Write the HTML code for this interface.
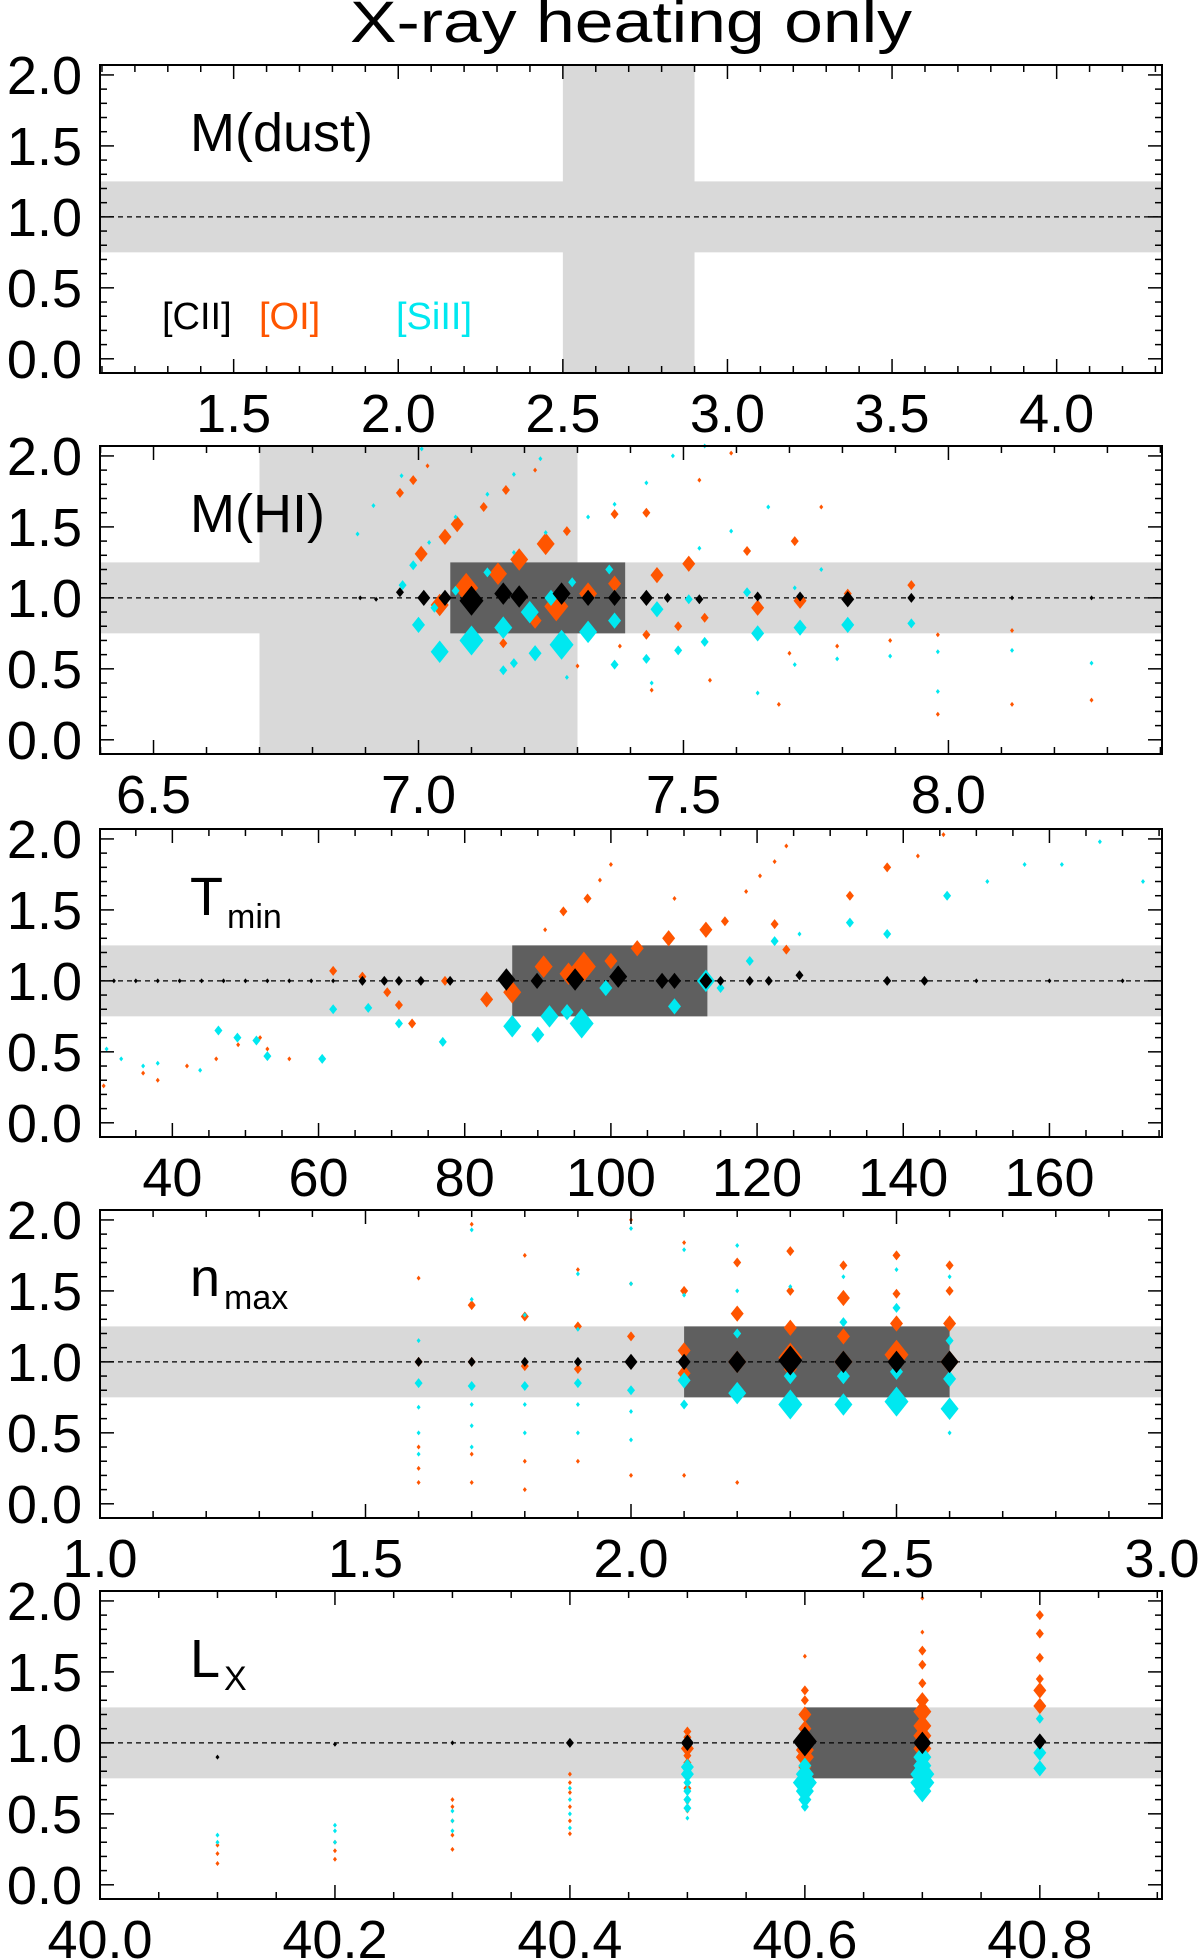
<!DOCTYPE html>
<html><head><meta charset="utf-8"><title>X-ray heating only</title>
<style>
html,body{margin:0;padding:0;background:#fff;}
svg{display:block;font-family:"Liberation Sans",Arial,sans-serif;}
</style></head>
<body>
<svg id="fig" width="1200" height="1959" viewBox="0 0 1200 1959" xmlns="http://www.w3.org/2000/svg">
<text x="631" y="42" font-size="58" text-anchor="middle" textLength="562" lengthAdjust="spacingAndGlyphs">X-ray heating only</text>
</svg>
<script>
// ---------- data ----------
const p1Ticks = [1.5, 2.0, 2.5, 3.0, 3.5, 4.0];
const p2Ticks = [6.5, 7.0, 7.5, 8.0];
const p3Ticks = [40, 60, 80, 100, 120, 140, 160];
const p4Ticks = [1.0, 1.5, 2.0, 2.5, 3.0];
const p5Ticks = [40.0, 40.2, 40.4, 40.6, 40.8];
const yTicks = [0.0, 0.5, 1.0, 1.5, 2.0];
const panelLabels = ["M(dust)", "M(HI)", "T", "n", "L"];

// points: [x, ratio, sizeClass]  (sizeClass 1 tiny .. 5 huge)
const hiCII = [[6.89,1.0,1],[6.92,0.99,1],[6.965,1.04,2],[7.01,1.0,3],[7.05,1.0,3],[7.10,0.98,5],[7.16,1.03,4],[7.19,1.01,4],[7.27,1.03,4],[7.32,1.0,3],[7.37,1.0,3],[7.43,1.0,3],[7.47,1.0,2],[7.53,0.99,2],[7.64,1.01,2],[7.72,1.01,2],[7.81,0.99,3],[7.93,1.0,2],[8.12,1.0,1],[8.27,1.0,1]];
const hiOI = [[7.073,2.09,1],[7.017,1.93,1],[6.99,1.83,2],[6.965,1.74,2],[7.123,1.64,2],[7.073,1.52,3],[7.05,1.43,3],[7.005,1.31,3],[7.22,1.90,1],[7.165,1.76,2],[7.24,1.38,4],[7.28,1.47,2],[7.19,1.27,4],[7.15,1.17,4],[7.09,1.07,5],[7.04,0.95,4],[7.26,0.94,5],[7.32,1.03,4],[7.37,1.10,3],[7.22,0.84,3],[7.16,0.68,2],[7.325,2.09,1],[7.37,1.59,2],[7.43,1.60,2],[7.53,1.83,1],[7.59,2.02,1],[7.45,1.16,3],[7.51,1.24,3],[7.62,1.33,2],[7.71,1.40,2],[7.76,1.64,1],[7.54,0.86,2],[7.64,0.93,3],[7.72,0.98,3],[7.81,1.03,2],[7.93,1.09,2],[7.49,0.80,2],[7.43,0.74,2],[7.89,0.70,1],[7.98,0.74,1],[8.12,0.77,1],[7.38,0.66,1],[7.30,0.52,1],[7.79,0.66,1],[7.70,0.61,1],[7.44,0.35,1],[7.55,0.42,1],[7.68,0.25,1],[7.98,0.18,1],[8.12,0.25,1],[8.27,0.28,1]];
const hiSiII = [[7.006,2.05,1],[6.968,1.86,1],[6.915,1.65,1],[6.885,1.45,1],[7.02,1.39,1],[7.07,1.57,1],[7.13,1.73,1],[7.18,1.87,1],[7.23,1.98,1],[7.24,1.46,1],[7.18,1.32,1],[7.13,1.18,2],[6.99,1.23,2],[6.97,1.09,2],[7.07,1.05,2],[7.25,1.00,3],[7.29,1.11,2],[7.36,1.20,2],[7.03,0.93,2],[7.00,0.81,3],[7.21,0.90,4],[7.16,0.79,4],[7.10,0.70,5],[7.04,0.62,4],[7.27,0.67,5],[7.32,0.76,4],[7.37,0.84,3],[7.22,0.61,3],[7.18,0.54,2],[7.16,0.49,2],[7.28,0.44,1],[7.37,0.53,2],[7.45,0.92,3],[7.51,0.99,2],[7.54,0.69,2],[7.49,0.63,2],[7.43,0.57,2],[7.64,0.75,3],[7.72,0.79,3],[7.81,0.81,3],[7.93,0.82,2],[7.89,0.59,1],[7.98,0.62,1],[8.12,0.63,1],[7.79,0.57,1],[7.71,0.53,1],[7.62,1.04,2],[7.71,1.07,1],[7.76,1.20,1],[7.59,1.47,1],[7.66,1.64,1],[7.53,1.35,1],[7.48,2.0,1],[7.43,1.81,1],[7.37,1.66,1],[7.32,1.57,1],[7.54,2.07,1],[7.44,0.40,1],[7.64,0.33,1],[7.98,0.34,1],[8.27,0.54,1]];

const tCII = [[32,1.0,1],[35,1.0,1],[38,1.0,1],[41,1.0,1],[44,1.0,1],[47,1.0,1],[50,1.0,1],[53,1.0,1],[56,1.0,1],[59,1.0,1],[62,1.0,1],[66,1.0,2],[69,1.0,2],[71,1.0,2],[74,1.0,2],[78,1.0,2],[85.7,1.01,4],[89.9,1.0,3],[95.1,1.01,4],[101,1.03,4],[107,1.0,3],[108.7,1.0,3],[113,1.0,3],[115,1.0,2],[119,1.0,2],[121.6,1.0,2],[125.8,1.04,2],[137.8,1.0,2],[142.9,1.0,2],[150,1.0,1],[160,1.0,1],[170,1.0,1]];
const tOI = [[30.6,0.26,1],[36,0.35,1],[38,0.30,1],[42,0.40,1],[46,0.45,1],[49,0.55,1],[52,0.60,1],[53,0.52,1],[56,0.45,1],[62,1.07,2],[66,1.03,2],[69.4,0.92,2],[71,0.83,2],[72.8,0.70,2],[77.3,1.0,2],[83,0.87,3],[86.5,0.92,4],[90.8,1.10,4],[94.2,1.05,4],[96.3,1.10,5],[100,1.14,3],[103.6,1.23,3],[107.9,1.30,3],[113,1.36,3],[115.6,1.42,2],[91,1.36,1],[93.5,1.49,2],[96.8,1.58,2],[98.5,1.71,1],[100,1.82,1],[118.5,1.63,1],[120.4,1.74,1],[122.4,1.84,1],[124,1.95,1],[132.7,1.60,2],[137.8,1.80,2],[142,1.88,1],[145.5,2.03,1],[122.4,1.40,2],[124,1.22,2],[108.7,1.58,1]];
const tSiII = [[91.6,0.75,4],[96,0.70,5],[86.5,0.68,4],[90,0.62,3],[77,0.57,2],[71,0.70,2],[66.8,0.81,2],[62,0.80,2],[60.5,0.45,2],[108.7,0.82,3],[113,1.00,4],[115,0.95,2],[99.3,0.95,3],[94,0.78,3],[119,1.14,2],[122.4,1.28,2],[125.8,1.33,1],[132.7,1.41,2],[137.8,1.33,2],[146,1.60,2],[151.5,1.70,1],[156.6,1.82,1],[161.7,1.82,1],[166.9,1.98,1],[172.8,1.70,1],[31,0.52,1],[33,0.45,1],[36,0.40,1],[38,0.42,1],[43.8,0.37,1],[46.3,0.65,2],[48.9,0.60,2],[51.5,0.58,2],[53,0.47,2]];

const nCII = [[1.6,1.0,2],[1.7,1.0,2],[1.8,1.0,2],[1.9,1.0,2],[2.0,1.0,3],[2.1,1.0,3],[2.2,1.0,4],[2.3,1.01,5],[2.4,1.0,4],[2.5,1.0,4],[2.6,1.0,4]];
const nOI = [[1.6,1.59,1],[1.6,1.0,2],[1.6,0.4,1],[1.6,0.25,1],[1.6,0.15,1],[1.7,1.97,1],[1.7,1.4,2],[1.7,1.0,2],[1.7,0.35,1],[1.7,0.15,1],[1.8,1.75,1],[1.8,1.32,2],[1.8,0.97,2],[1.8,0.3,1],[1.8,0.1,1],[1.9,1.65,1],[1.9,1.25,2],[1.9,0.95,2],[1.9,0.3,1],[2.0,2.0,1],[2.0,1.55,1],[2.0,1.18,2],[2.0,0.98,2],[2.0,0.2,1],[2.1,1.84,1],[2.1,1.5,2],[2.1,1.08,3],[2.1,0.92,3],[2.1,0.2,1],[2.2,1.7,2],[2.2,1.34,3],[2.2,1.0,4],[2.2,0.15,1],[2.3,1.78,2],[2.3,1.5,2],[2.3,1.24,3],[2.3,1.03,5],[2.3,0.95,3],[2.4,1.68,2],[2.4,1.45,3],[2.4,1.18,3],[2.4,1.0,4],[2.5,1.75,2],[2.5,1.48,2],[2.5,1.27,3],[2.5,1.05,5],[2.6,1.68,2],[2.6,1.5,2],[2.6,1.27,3],[2.6,1.0,4]];
const nSiII = [[1.6,1.15,1],[1.6,0.85,2],[1.6,0.68,1],[1.6,0.5,1],[1.6,0.35,1],[1.7,1.93,1],[1.7,1.44,1],[1.7,0.83,2],[1.7,0.7,1],[1.7,0.55,1],[1.7,0.4,1],[1.8,1.33,1],[1.8,0.83,2],[1.8,0.7,1],[1.8,0.5,1],[1.9,1.62,1],[1.9,1.23,1],[1.9,0.85,2],[1.9,0.7,1],[1.9,0.5,1],[2.0,1.94,1],[2.0,1.55,1],[2.0,0.8,2],[2.0,0.65,1],[2.0,0.45,1],[2.1,1.79,1],[2.1,1.47,1],[2.1,1.0,2],[2.1,0.87,3],[2.1,0.7,2],[2.2,1.82,1],[2.2,1.5,1],[2.2,1.2,2],[2.2,1.0,3],[2.2,0.78,4],[2.3,1.53,1],[2.3,0.9,3],[2.3,0.7,5],[2.4,1.6,1],[2.4,1.28,2],[2.4,0.9,3],[2.4,0.7,4],[2.5,1.65,1],[2.5,1.38,2],[2.5,0.93,3],[2.5,0.72,5],[2.6,1.6,1],[2.6,1.15,2],[2.6,0.88,3],[2.6,0.67,4],[2.6,0.5,1]];

const lCII = [[40.1,0.9,1],[40.2,0.99,1],[40.3,1.0,1],[40.4,1.0,2],[40.5,1.0,3],[40.6,1.01,5],[40.7,1.0,4],[40.8,1.01,3]];
const lOI = [[40.1,0.15,1],[40.1,0.22,1],[40.1,0.28,1],[40.2,0.18,1],[40.2,0.24,1],[40.2,0.3,1],[40.3,0.25,1],[40.3,0.35,1],[40.3,0.45,1],[40.3,0.55,1],[40.3,0.6,1],[40.4,0.36,1],[40.4,0.45,1],[40.4,0.55,1],[40.4,0.65,1],[40.4,0.72,1],[40.4,0.78,1],[40.5,1.08,2],[40.5,1.04,2],[40.5,0.96,3],[40.5,0.91,2],[40.5,0.86,2],[40.5,0.78,2],[40.5,0.68,2],[40.5,0.58,1],[40.5,0.52,1],[40.6,1.61,1],[40.6,1.37,2],[40.6,1.3,2],[40.6,1.2,3],[40.6,1.1,3],[40.6,1.02,4],[40.6,0.95,4],[40.6,0.9,4],[40.6,0.83,3],[40.6,0.72,2],[40.7,2.02,1],[40.7,1.78,1],[40.7,1.65,2],[40.7,1.55,2],[40.7,1.42,2],[40.7,1.3,3],[40.7,1.22,4],[40.7,1.12,4],[40.7,1.05,4],[40.7,0.96,4],[40.8,2.08,1],[40.8,1.9,2],[40.8,1.77,2],[40.8,1.6,2],[40.8,1.45,2],[40.8,1.37,3],[40.8,1.26,3]];
const lSiII = [[40.1,0.3,1],[40.1,0.35,1],[40.2,0.3,1],[40.2,0.38,1],[40.2,0.42,1],[40.3,0.38,1],[40.3,0.45,1],[40.3,0.52,1],[40.4,0.4,1],[40.4,0.5,1],[40.4,0.6,1],[40.4,0.68,1],[40.5,0.83,3],[40.5,0.78,3],[40.5,0.72,2],[40.5,0.66,2],[40.5,0.6,2],[40.5,0.54,2],[40.5,0.47,1],[40.6,0.84,3],[40.6,0.78,4],[40.6,0.72,5],[40.6,0.66,4],[40.6,0.6,3],[40.6,0.55,2],[40.7,0.9,4],[40.7,0.84,4],[40.7,0.78,5],[40.7,0.72,5],[40.7,0.66,4],[40.8,1.17,2],[40.8,0.93,3],[40.8,0.82,3]];

// ---------- layout ----------
const NS = "http://www.w3.org/2000/svg";
const svg = document.getElementById("fig");
const L = 100, R = 1162, H = 308;
const tops = [65, 446, 829, 1210, 1591];
const yMin = -0.1, yMax = 2.07;
const ORANGE = "#ff5500", CYAN = "#00e8f0";
const sizes = [0, 2, 4, 6.5, 9, 12];

function el(tag, attrs, parent) {
  const e = document.createElementNS(NS, tag);
  for (const k in attrs) e.setAttribute(k, attrs[k]);
  (parent || svg).appendChild(e);
  return e;
}

const panels = [
  {name:"m-dust", xr:[1.094, 4.32], ticks:p1Ticks, minor:0.1, vband:[2.5,2.9], box:null, series:[]},
  {name:"m-hi", xr:[6.399, 8.403], ticks:p2Ticks, minor:0.1, vband:[6.70,7.30], box:[7.06,7.39], series:[[hiOI,ORANGE],[hiSiII,CYAN],[hiCII,"#000"]]},
  {name:"t-min", xr:[30.1, 175.4], ticks:p3Ticks, minor:5, vband:null, box:[86.5,113.2], series:[[tOI,ORANGE],[tSiII,CYAN],[tCII,"#000"]]},
  {name:"n-max", xr:[1.0, 3.0], ticks:p4Ticks, minor:0.1, vband:null, box:[2.1,2.6], series:[[nOI,ORANGE],[nSiII,CYAN],[nCII,"#000"]]},
  {name:"l-x", xr:[40.0, 40.904], ticks:p5Ticks, minor:0.05, vband:null, box:[40.6,40.7], series:[[lOI,ORANGE],[lSiII,CYAN],[lCII,"#000"]]}
];

panels.forEach((p, i) => {
  const top = tops[i], bot = top + H;
  const sx = v => L + (v - p.xr[0]) / (p.xr[1] - p.xr[0]) * (R - L);
  const sy = v => bot - (v - yMin) / (yMax - yMin) * H;
  const g = el("g", {});
  
  

  const hb = el("rect", {x:L, y:sy(1.25), width:R-L, height:sy(0.75)-sy(1.25), fill:"#d9d9d9"}, g);
  
  
  if (p.vband) {
    const vb = el("rect", {x:sx(p.vband[0]), y:top, width:sx(p.vband[1])-sx(p.vband[0]), height:H, fill:"#d9d9d9"}, g);
    
    
  }
  if (p.box) {
    const bx = el("rect", {x:sx(p.box[0]), y:sy(1.25), width:sx(p.box[1])-sx(p.box[0]), height:sy(0.75)-sy(1.25), fill:"#5f5f5f"}, g);
    
    
  }
  const dl = el("line", {x1:L, x2:R, y1:sy(1), y2:sy(1), stroke:"#000", "stroke-width":1.3, "stroke-dasharray":"5 4"}, g);
  
  

  p.series.forEach(([pts, col]) => {
    pts.forEach(([x, y, s]) => {
      const w = sizes[s], h = sizes[s] * 1.25;
      const cx = sx(x), cy = sy(y);
      if (cy < top || cy > bot) return;
      const d = el("polygon", {points:`${cx},${cy-h} ${cx+w},${cy} ${cx},${cy+h} ${cx-w},${cy}`, fill:col}, g);
      
      
    });
  });

  const tk = el("g", {stroke:"#000", "stroke-width":1.5}, g);
  
  
  const step = p.minor;
  const start = Math.ceil(p.xr[0] / step - 1e-6);
  for (let k = start; k * step <= p.xr[1] + 1e-9; k++) {
    const v = k * step, X = sx(v);
    const major = p.ticks.some(t => Math.abs(t - v) < step / 10);
    const len = major ? 14 : 7;
    el("line", {x1:X, x2:X, y1:bot, y2:bot-len}, tk);
    el("line", {x1:X, x2:X, y1:top, y2:top+len}, tk);
  }
  for (let k = -1; k * 0.1 <= yMax + 1e-9; k++) {
    const v = k * 0.1, Y = sy(v);
    if (Y > bot) continue;
    const len = (k % 5 === 0) ? 14 : 7;
    el("line", {x1:L, x2:L+len, y1:Y, y2:Y}, tk);
    el("line", {x1:R, x2:R-len, y1:Y, y2:Y}, tk);
  }
  const fr = el("rect", {x:L, y:top, width:R-L, height:H, fill:"none", stroke:"#000", "stroke-width":2}, g);
  
  

  yTicks.forEach(v => {
    const t = el("text", {x:82, y:sy(v)+19, "font-size":54, "text-anchor":"end"}, g);
    t.textContent = v.toFixed(1);
    
    
  });
  p.ticks.forEach(v => {
    const t = el("text", {x:sx(v), y:bot+59, "font-size":54, "text-anchor":"middle"}, g);
    t.textContent = (i === 2) ? String(v) : v.toFixed(1);
    
    
  });

  const lab = el("text", {x:190, y:top+86, "font-size":54}, g);
  
  
  lab.textContent = panelLabels[i];
  if (i >= 2) {
    const sub = el("tspan", {"font-size":34, dy:13, dx:4}, lab);
    sub.textContent = ["min", "max", "X"][i - 2];
  }
  if (i === 0) {
    [["[CII]", "#000", 162], ["[OI]", ORANGE, 259], ["[SiII]", CYAN, 396]].forEach(([txt, col, x]) => {
      const t = el("text", {x:x, y:top+264, "font-size":38, fill:col}, g);
      t.textContent = txt;
      
      
    });
  }
});
</script>
</body></html>
